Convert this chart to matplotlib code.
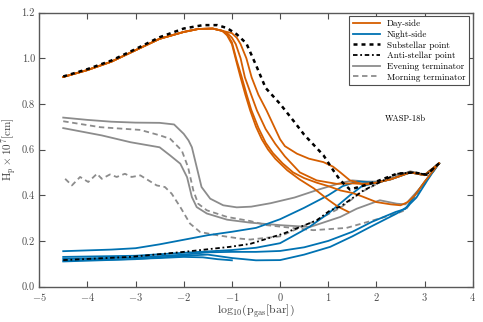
import matplotlib
matplotlib.use("Agg")
import matplotlib.pyplot as plt

plt.rcParams['font.family'] = 'serif'
plt.rcParams['font.serif'] = ['cmr10', 'DejaVu Serif']
plt.rcParams['mathtext.fontset'] = 'cm'
plt.rcParams['axes.formatter.use_mathtext'] = True

c_day = '#d55e00'
c_night = '#0072b2'
c_term = '#8c8c8c'

# shared upper part of the day-side profiles (log10 p, Hp/1e7 cm)
day_x0 = [-4.5, -4.0, -3.5, -3.0, -2.5, -2.0, -1.7, -1.4, -1.2]
day_y0 = [0.918, 0.948, 0.985, 1.035, 1.085, 1.115, 1.128, 1.13, 1.12]

day_x1 = day_x0 + [-1.1, -1.0, -0.9, -0.82, -0.72, -0.62, -0.5, -0.38, -0.25, -0.1, 0.15, 0.4, 0.7,
                   1.0, 1.2, 1.42]
day_y1 = day_y0 + [1.10, 1.062, 0.98, 0.916, 0.84, 0.771, 0.70, 0.645, 0.60, 0.56, 0.509, 0.47, 0.43,
                   0.38, 0.35, 0.327]

day_x2 = day_x0 + [-1.1, -1.0, -0.9, -0.8, -0.7, -0.6, -0.45, -0.3, -0.15, 0.05, 0.27, 0.5, 0.76,
                   1.0, 1.25, 1.5, 1.7, 2.0, 2.3, 2.5, 2.65, 2.8, 3.0, 3.3]
day_y2 = day_y0 + [1.105, 1.07, 0.99, 0.92, 0.845, 0.775, 0.695, 0.63, 0.585, 0.54, 0.50, 0.475, 0.455,
                   0.44, 0.421, 0.41, 0.395, 0.37, 0.36, 0.356, 0.37, 0.40, 0.46, 0.54]

day_x3 = day_x0 + [-1.1, -1.0, -0.92, -0.82, -0.73, -0.6, -0.48, -0.3, -0.1, 0.1, 0.41, 0.76, 1.17,
                   1.5, 1.8, 2.0, 2.3, 2.7, 3.0, 3.3]
day_y3 = day_y0 + [1.11, 1.09, 1.062, 1.0, 0.916, 0.84, 0.771, 0.69, 0.625, 0.57, 0.50, 0.465, 0.45,
                   0.452, 0.448, 0.455, 0.47, 0.50, 0.488, 0.54]

day_x4 = day_x0 + [-1.0, -0.9, -0.82, -0.7, -0.59, -0.45, -0.28, -0.1, 0.0, 0.1, 0.35, 0.6, 0.9, 1.1,
                   1.25, 1.45, 1.7, 2.0, 2.3, 2.7, 3.0, 3.3]
day_y4 = day_y0 + [1.11, 1.09, 1.062, 1.0, 0.916, 0.84, 0.771, 0.69, 0.645, 0.615, 0.582, 0.56, 0.545,
                   0.525, 0.50, 0.465, 0.45, 0.455, 0.47, 0.50, 0.488, 0.54]

night_x1 = [-4.5, -3.5, -3.0, -2.5, -2.0, -1.5, -1.0, -0.5, 0.0, 0.5, 1.0, 1.3, 1.6, 2.0, 2.3, 2.7, 3.0, 3.3]
night_y1 = [0.155, 0.162, 0.168, 0.185, 0.205, 0.225, 0.24, 0.257, 0.295, 0.345, 0.40, 0.44, 0.46, 0.455, 0.47, 0.50, 0.488, 0.54]

night_x2 = [-4.5, -3.0, -2.0, -1.0, -0.5, 0.0, 0.6, 1.0, 1.45, 1.7, 2.0, 2.3, 2.7, 3.0, 3.3]
night_y2 = [0.13, 0.135, 0.148, 0.16, 0.17, 0.19, 0.26, 0.32, 0.40, 0.44, 0.455, 0.47, 0.50, 0.488, 0.54]

night_x3 = [-4.5, -3.0, -2.0, -1.5, -1.0, -0.5, 0.0, 0.5, 1.0, 1.5, 1.9, 2.4, 2.6, 2.9, 3.3]
night_y3 = [0.122, 0.127, 0.14, 0.15, 0.152, 0.152, 0.156, 0.172, 0.20, 0.24, 0.283, 0.327, 0.34, 0.43, 0.54]

night_x4 = [-4.5, -3.0, -2.0, -1.5, -1.0, -0.5, 0.0, 0.5, 1.04, 1.5, 1.87, 2.42, 2.63, 2.83, 3.1, 3.3]
night_y4 = [0.11, 0.12, 0.135, 0.14, 0.125, 0.115, 0.116, 0.14, 0.174, 0.22, 0.261, 0.32, 0.348, 0.39, 0.48, 0.54]

night_x5 = [-4.5, -3.5, -2.5, -2.0, -1.6, -1.3, -1.0]
night_y5 = [0.115, 0.118, 0.125, 0.13, 0.128, 0.12, 0.115]

sub_x = [-4.5, -4.0, -3.5, -3.0, -2.5, -2.0, -1.6, -1.3, -1.1, -0.9, -0.7, -0.5, -0.3, 0.0, 0.3, 0.5,
         0.9, 1.1, 1.25, 1.45, 1.7, 2.0, 2.42, 2.77, 3.04, 3.3]
sub_y = [0.92, 0.952, 0.99, 1.04, 1.092, 1.13, 1.145, 1.145, 1.132, 1.105, 1.065, 0.97, 0.87, 0.80,
         0.72, 0.665, 0.575, 0.51, 0.465, 0.425, 0.44, 0.46, 0.494, 0.50, 0.49, 0.54]

anti_x = [-4.5, -3.1, -2.0, -1.04, -0.62, 0.07, 0.76, 1.04, 1.25, 1.73, 2.42, 2.77, 3.04, 3.3]
anti_y = [0.116, 0.13, 0.152, 0.174, 0.187, 0.232, 0.29, 0.334, 0.35, 0.421, 0.494, 0.50, 0.49, 0.54]

eve_x1 = [-4.5, -4.0, -3.5, -3.0, -2.5, -2.2, -2.0, -1.9, -1.83, -1.73, -1.63, -1.45, -1.18, -0.9, -0.6,
          -0.2, 0.3, 0.8, 1.2, 1.5, 1.8, 2.1, 2.4, 2.7, 3.0, 3.3]
eve_y1 = [0.74, 0.73, 0.722, 0.718, 0.717, 0.71, 0.669, 0.64, 0.61, 0.523, 0.436, 0.385, 0.356, 0.347,
          0.35, 0.365, 0.39, 0.425, 0.45, 0.465, 0.46, 0.46, 0.48, 0.505, 0.49, 0.54]

eve_x2 = [-4.5, -3.7, -3.1, -2.5, -2.28, -2.07, -1.93, -1.83, -1.73, -1.52, -1.1, -0.62, 0.0, 0.62,
          1.25, 1.59, 2.07, 2.42, 2.6, 2.9, 3.3]
eve_y2 = [0.694, 0.662, 0.632, 0.61, 0.574, 0.538, 0.479, 0.392, 0.348, 0.32, 0.293, 0.28, 0.269,
          0.261, 0.305, 0.341, 0.378, 0.363, 0.36, 0.43, 0.54]

morn_x1 = [-4.5, -3.73, -2.9, -2.49, -2.28, -2.04, -1.91, -1.8, -1.7, -1.52, -1.1, -0.62, -0.28,
           0.69, 1.38, 1.93, 2.42, 2.6, 2.9, 3.3]
morn_y1 = [0.724, 0.698, 0.686, 0.662, 0.647, 0.596, 0.523, 0.421, 0.363, 0.334, 0.305, 0.287, 0.269,
           0.247, 0.257, 0.29, 0.32, 0.335, 0.42, 0.54]

morn_x2 = [-4.46, -4.32, -4.15, -3.98, -3.8, -3.7, -3.53, -3.39, -3.22, -3.08, -2.9, -2.73, -2.56,
           -2.39, -2.25, -2.07, -1.87, -1.66, -1.31, -0.83, -0.62, 0.0, 0.41, 0.8, 1.25, 1.7, 2.1,
           2.42, 2.77, 3.04, 3.3]
morn_y2 = [0.472, 0.443, 0.48, 0.458, 0.494, 0.472, 0.491, 0.48, 0.494, 0.48, 0.487, 0.465, 0.443,
           0.436, 0.407, 0.348, 0.276, 0.239, 0.225, 0.21, 0.206, 0.22, 0.258, 0.295, 0.345, 0.415,
           0.46, 0.49, 0.50, 0.49, 0.54]

fig = plt.figure(figsize=(4.83, 3.22), dpi=100)
ax = fig.add_axes([0.081, 0.110, 0.898, 0.851])

lw = 1.3
ax.plot(eve_x1, eve_y1, color=c_term, lw=lw, label='Evening terminator')
ax.plot(eve_x2, eve_y2, color=c_term, lw=lw)
ax.plot(morn_x1, morn_y1, color=c_term, lw=lw, ls='--', dashes=(3, 2), label='Morning terminator')
ax.plot(morn_x2, morn_y2, color=c_term, lw=lw, ls='--', dashes=(3, 2))

ax.plot(night_x1, night_y1, color=c_night, lw=lw, label='Night-side')
ax.plot(night_x2, night_y2, color=c_night, lw=lw)
ax.plot(night_x3, night_y3, color=c_night, lw=lw)
ax.plot(night_x4, night_y4, color=c_night, lw=lw)
ax.plot(night_x5, night_y5, color=c_night, lw=lw)

ax.plot(day_x1, day_y1, color=c_day, lw=lw, label='Day-side')
ax.plot(day_x2, day_y2, color=c_day, lw=lw)
ax.plot(day_x3, day_y3, color=c_day, lw=lw)
ax.plot(day_x4, day_y4, color=c_day, lw=lw)

ax.plot(sub_x, sub_y, color='k', lw=1.8, ls='--', dashes=(1.6, 1.6), label='Substellar point')
ax.plot(anti_x, anti_y, color='k', lw=1.3, ls='-.', dashes=(2.5, 1.5, 1, 1.5), label='Anti-stellar point')

ax.set_xlim(-5, 4)
ax.set_ylim(0, 1.2)
ax.set_xticks(range(-5, 5))
ax.set_yticks([0.0, 0.2, 0.4, 0.6, 0.8, 1.0, 1.2])
ax.yaxis.set_major_formatter(matplotlib.ticker.FormatStrFormatter('%.1f'))
ax.tick_params(direction='in', top=True, right=True, labelsize=7.5, colors='0.3', length=4, pad=3)
for s in ax.spines.values():
    s.set_color('0.35')
    s.set_linewidth(1.0)

ax.set_xlabel(r'$\mathrm{log_{10}(p_{gas}[bar])}$', fontsize=8.5, color='0.25', labelpad=0)
ax.set_ylabel(r'$\mathrm{H_p \times 10^7[cm]}$', fontsize=8, color='0.25', labelpad=2)
ax.text(2.6, 0.735, 'WASP-18b', fontsize=6, ha='center', va='center')

h, l = ax.get_legend_handles_labels()
order = ['Day-side', 'Night-side', 'Substellar point', 'Anti-stellar point',
         'Evening terminator', 'Morning terminator']
hl = [h[l.index(o)] for o in order]
leg = ax.legend(hl, order, loc='upper right', fontsize=6.5, fancybox=False, framealpha=1,
                edgecolor='0.3', borderaxespad=0.4, handlelength=3.0, labelspacing=0.25)
leg.get_frame().set_linewidth(0.8)

fig.savefig('out.png', dpi=100)
